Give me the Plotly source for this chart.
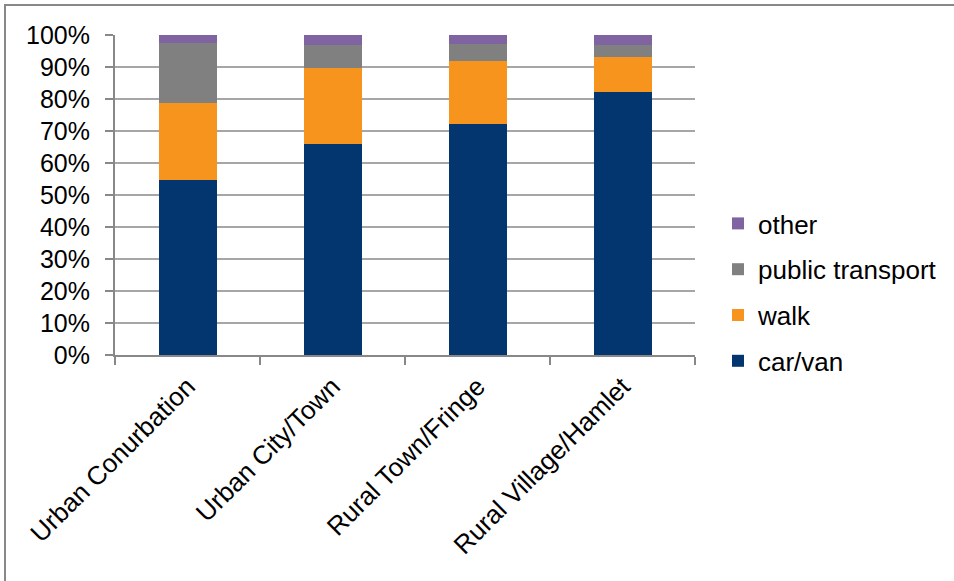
import plotly.graph_objects as go

categories = ["Urban Conurbation", "Urban City/Town", "Rural Town/Fringe", "Rural Village/Hamlet"]
car_van = [54.8, 66.0, 72.2, 82.1]
walk = [23.8, 23.8, 19.6, 10.9]
public_transport = [18.8, 7.0, 5.3, 3.8]
other = [2.6, 3.2, 2.9, 3.2]
y_ticks = [0, 10, 20, 30, 40, 50, 60, 70, 80, 90, 100]
y_tick_labels = [f"{v}%" for v in y_ticks]

series = [
    ("car/van", car_van, "#03366F", 4),
    ("walk", walk, "#F7941E", 3),
    ("public transport", public_transport, "#808080", 2),
    ("other", other, "#8064A2", 1),
]

FONT = "Liberation Sans, Arial, sans-serif"

fig = go.Figure()
for name, vals, color, rank in series:
    fig.add_trace(go.Bar(
        x=categories, y=vals, name=name, legendgroup=name, legendrank=rank,
        marker=dict(color=color, line=dict(width=0)),
    ))

W, H = 954, 581
L, R, T, B = 115, 259, 35, 226
pw, ph = W - L - R, H - T - B

def px_x(x):
    return (x - L) / pw

def px_y(y):
    return (H - B - y) / ph

fig.update_layout(
    width=W, height=H,
    barmode="stack", bargap=0.6,
    margin=dict(l=L, r=R, t=T, b=B, autoexpand=False),
    paper_bgcolor="white", plot_bgcolor="white",
    font=dict(family=FONT, size=25, color="#000000"),
    showlegend=True,
    legend=dict(
        x=px_x(718), xanchor="left",
        y=px_y(200), yanchor="top",
        traceorder="grouped", tracegroupgap=9,
        font=dict(size=26, family=FONT, color="#000000"),
        bgcolor="rgba(0,0,0,0)", borderwidth=0,
    ),
    xaxis=dict(
        type="category", tickangle=-45, tickson="boundaries",
        ticks="outside", ticklen=8, tickwidth=2, tickcolor="#888888",
        showline=True, linecolor="#888888", linewidth=2,
        showgrid=False, tickfont=dict(size=26, family=FONT, color="#000000"),
        ticklabelstandoff=4,
    ),
    yaxis=dict(
        range=[0, 100], tickvals=y_ticks, ticktext=y_tick_labels,
        ticks="outside", ticklen=8, tickwidth=2, tickcolor="#888888",
        showline=True, linecolor="#888888", linewidth=2,
        showgrid=True, gridcolor="#A6A6A6", gridwidth=2,
        zeroline=False, ticklabelstandoff=10,
        tickfont=dict(size=25, family=FONT, color="#000000"),
    ),
    shapes=[
        dict(type="rect", xref="paper", yref="paper",
             x0=px_x(5), x1=px_x(960), y0=px_y(590), y1=px_y(5),
             line=dict(color="#888888", width=2), fillcolor="rgba(0,0,0,0)", layer="below"),
    ],
)

fig.write_html("out.html", config={"displayModeBar": False},
               post_script="document.body.style.margin='0px';")
